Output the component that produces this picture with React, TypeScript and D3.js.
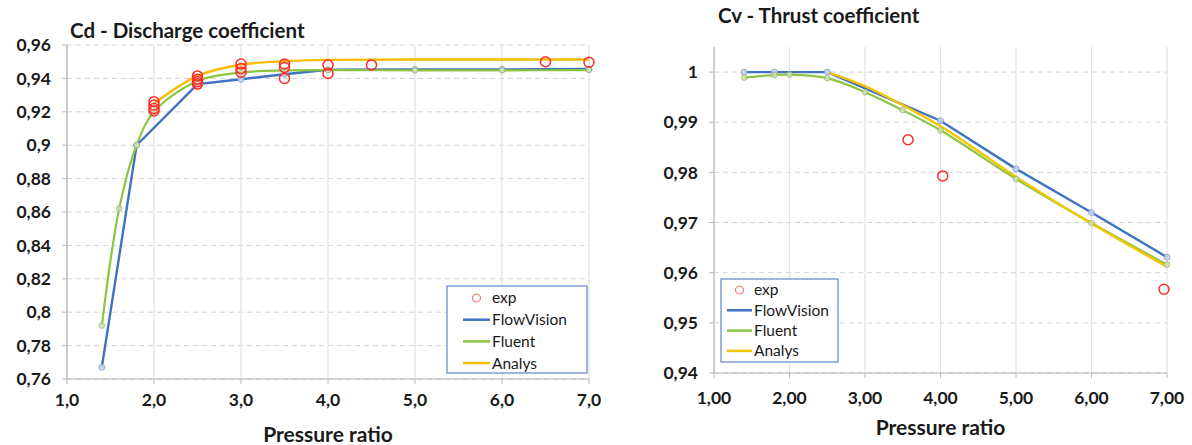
import React from "react";
import * as d3 from "d3";

type Pt = [number, number];

// tick values
const xTicks = [1, 2, 3, 4, 5, 6, 7];
const cdTicks = [0.76, 0.78, 0.8, 0.82, 0.84, 0.86, 0.88, 0.9, 0.92, 0.94, 0.96];
const cvTicks = [0.94, 0.95, 0.96, 0.97, 0.98, 0.99, 1];

const legendNames = ["exp", "FlowVision", "Fluent", "Analys"];

// Cd - discharge coefficient
const cdExp: Pt[] = [
  [2.0, 0.926], [2.0, 0.924], [2.0, 0.922], [2.0, 0.9205],
  [2.5, 0.9415], [2.5, 0.9395], [2.5, 0.938], [2.5, 0.9366],
  [3.0, 0.9486], [3.0, 0.946], [3.0, 0.9437],
  [3.5, 0.9486], [3.5, 0.9466], [3.5, 0.940],
  [4.0, 0.948], [4.0, 0.943],
  [4.5, 0.948],
  [6.5, 0.950],
  [7.0, 0.9497],
];
const cdFlowVision: Pt[] = [
  [1.4, 0.767], [1.8, 0.9], [2.5, 0.9366], [3.0, 0.9395], [3.5, 0.9425],
  [4.0, 0.9452], [5.0, 0.9453], [6.0, 0.9454], [7.0, 0.9456],
];
const cdFluent: Pt[] = [
  [1.4, 0.792], [1.6, 0.862], [1.8, 0.9], [2.0, 0.920], [2.5, 0.9385],
  [3.0, 0.9435], [3.5, 0.9448], [4.0, 0.945], [5.0, 0.9448], [6.0, 0.9448], [7.0, 0.945],
];
const cdAnalys: Pt[] = [
  [2.0, 0.925], [2.5, 0.9415], [3.0, 0.9482], [3.5, 0.9503], [4.0, 0.9511],
  [5.0, 0.9513], [6.0, 0.9513], [7.0, 0.9513],
];

// Cv - thrust coefficient
const cvExp: Pt[] = [[3.57, 0.9865], [4.03, 0.9793], [6.96, 0.9567]];
const cvFlowVision: Pt[] = [
  [1.4, 1.0], [1.8, 1.0], [2.5, 1.0], [4.0, 0.9903], [5.0, 0.9807], [6.0, 0.972], [7.0, 0.9631],
];
const cvFluent: Pt[] = [
  [1.4, 0.9989], [1.8, 0.9994], [2.0, 0.9995], [2.5, 0.9988], [3.0, 0.996],
  [3.5, 0.9924], [4.0, 0.9884], [5.0, 0.9787], [6.0, 0.9699], [7.0, 0.9616],
];
const cvAnalys: Pt[] = [
  [2.5, 1.0], [3.0, 0.9972], [3.5, 0.9934], [4.0, 0.9892], [5.0, 0.9791], [6.0, 0.9698], [7.0, 0.9612],
];

const BLUE = "#3f72c2";
const GREEN = "#8cc540";
const ORANGE = "#f8bd00";
const RED = "#ff2a2a";
const FONT = "Lato, 'Open Sans', sans-serif";
const INK = "#1a1a1a";

const comma = (s: string) => s.replace(".", ",");

interface PanelProps {
  title: string;
  titleX: number;
  titleY: number;
  left: number;
  right: number;
  top: number;
  bottom: number;
  yDomain: [number, number];
  yTicks: number[];
  xFmt: (v: number) => string;
  exp: Pt[];
  flow: Pt[];
  fluent: Pt[];
  analys: Pt[];
  legend: { x: number; y: number; w: number; h: number; row: number; first: number; lineX: number; lineW: number };
  xLabelY: number;
  axisTitleY: number;
  analysColor: string;
}

const Panel = (p: PanelProps) => {
  const x = d3.scaleLinear().domain([1, 7]).range([p.left, p.right]);
  const y = d3.scaleLinear().domain(p.yDomain).range([p.bottom, p.top]);
  const yFmt = (v: number) => comma(d3.format("~g")(v));

  const straight = d3.line<Pt>().x((d) => x(d[0])).y((d) => y(d[1]));
  const smooth = d3
    .line<Pt>()
    .x((d) => x(d[0]))
    .y((d) => y(d[1]))
    .curve(d3.curveMonotoneX);
  const catmull = d3
    .line<Pt>()
    .x((d) => x(d[0]))
    .y((d) => y(d[1]))
    .curve(d3.curveCatmullRom.alpha(0.5));

  const lg = p.legend;
  const legendColors = [RED, BLUE, GREEN, p.analysColor];

  return (
    <g fontFamily={FONT}>
      <text x={p.titleX} y={p.titleY} fontSize={20.5} fontWeight="bold" fill={INK}>
        {p.title}
      </text>

      {/* grid */}
      {p.yTicks.map((t) => (
        <line key={"h" + t} x1={p.left} x2={p.right} y1={y(t)} y2={y(t)}
          stroke="#d4d4d4" strokeDasharray="5,4" strokeWidth={1} />
      ))}
      {xTicks.map((t) => (
        <line key={"v" + t} x1={x(t)} x2={x(t)} y1={p.top} y2={p.bottom}
          stroke="#e2e2e2" strokeWidth={1.2} />
      ))}
      <line x1={p.left} x2={p.left} y1={p.top} y2={p.bottom} stroke="#b8b8b8" strokeWidth={1.2} />
      <line x1={p.left} x2={p.right} y1={p.bottom} y2={p.bottom} stroke="#b8b8b8" strokeWidth={1.2} />
      {p.yTicks.map((t) => (
        <line key={"yt" + t} x1={p.left - 5} x2={p.left} y1={y(t)} y2={y(t)} stroke="#b8b8b8" />
      ))}
      {xTicks.map((t) => (
        <line key={"xt" + t} x1={x(t)} x2={x(t)} y1={p.bottom} y2={p.bottom + 5} stroke="#b8b8b8" />
      ))}

      {/* tick labels */}
      {p.yTicks.map((t) => (
        <text key={"yl" + t} x={p.left - 16} y={y(t)} dy="0.35em" textAnchor="end"
          fontSize={17.5} fontWeight="bold" fill={INK}>
          {yFmt(t)}
        </text>
      ))}
      {xTicks.map((t) => (
        <text key={"xl" + t} x={x(t)} y={p.xLabelY} dy="0.35em" textAnchor="middle"
          fontSize={17.5} fontWeight="bold" fill={INK}>
          {p.xFmt(t)}
        </text>
      ))}
      <text x={(p.left + p.right) / 2} y={p.axisTitleY} dy="0.35em" textAnchor="middle"
        fontSize={21} fontWeight="bold" fill={INK}>
        Pressure ratio
      </text>

      {/* series */}
      <path d={straight(p.flow) ?? ""} fill="none" stroke={BLUE} strokeWidth={2.4} />
      <path d={catmull(p.fluent) ?? ""} fill="none" stroke={GREEN} strokeWidth={2.2} />
      <path d={smooth(p.analys) ?? ""} fill="none" stroke={p.analysColor} strokeWidth={2.4} />
      {p.flow.map((d, i) => (
        <circle key={"fm" + i} cx={x(d[0])} cy={y(d[1])} r={3} fill="#c6d6ee" stroke="#8aa3cf" strokeWidth={1} opacity={0.9} />
      ))}
      {p.fluent.map((d, i) => (
        <circle key={"gm" + i} cx={x(d[0])} cy={y(d[1])} r={2.8} fill="#cfe3b0" stroke="#9ab878" strokeWidth={1} opacity={0.85} />
      ))}
      {p.exp.map((d, i) => (
        <circle key={"e" + i} cx={x(d[0])} cy={y(d[1])} r={5} fill="none" stroke={RED} strokeWidth={1.5} />
      ))}

      {/* legend */}
      <rect x={lg.x} y={lg.y} width={lg.w} height={lg.h} fill="#fff" stroke="#6f8fcc" strokeWidth={1.3} />
      {legendNames.map((name, i) => {
        const cy = lg.first + i * lg.row;
        return (
          <g key={name}>
            {i === 0 ? (
              <circle cx={lg.lineX + lg.lineW / 2} cy={cy} r={4} fill="none" stroke="#f07a7a" strokeWidth={1.2} />
            ) : (
              <line x1={lg.lineX} x2={lg.lineX + lg.lineW} y1={cy} y2={cy} stroke={legendColors[i]} strokeWidth={2.5} />
            )}
            <text x={lg.lineX + lg.lineW + 2} y={cy} dy="0.35em" fontSize={15.5} fill={INK}>
              {name}
            </text>
          </g>
        );
      })}
    </g>
  );
};

const App = () => {
  return (
    <div style={{ position: "absolute", left: 0, top: 0 }}>
      <svg width={1192} height={445} style={{ display: "block", background: "#fff" }}>
        <Panel
          title="Cd - Discharge coefficient"
          titleX={70}
          titleY={38}
          left={67}
          right={589}
          top={45}
          bottom={379}
          yDomain={[0.76, 0.96]}
          yTicks={cdTicks}
          xFmt={(v) => comma(d3.format(".1f")(v))}
          exp={cdExp}
          flow={cdFlowVision}
          fluent={cdFluent}
          analys={cdAnalys}
          legend={{ x: 447, y: 286, w: 140, h: 87, row: 21.7, first: 298, lineX: 463, lineW: 27 }}
          xLabelY={400}
          axisTitleY={435}
          analysColor={ORANGE}
        />
        <Panel
          title="Cv - Thrust coefficient"
          titleX={718}
          titleY={23}
          left={714}
          right={1167}
          top={47}
          bottom={373}
          yDomain={[0.94, 1.005]}
          yTicks={cvTicks}
          xFmt={(v) => comma(d3.format(".2f")(v))}
          exp={cvExp}
          flow={cvFlowVision}
          fluent={cvFluent}
          analys={cvAnalys}
          legend={{ x: 721, y: 279, w: 117, h: 83, row: 20.3, first: 290, lineX: 727, lineW: 25 }}
          xLabelY={398}
          axisTitleY={428}
          analysColor="#f2c600"
        />
      </svg>
    </div>
  );
};

export default App;
